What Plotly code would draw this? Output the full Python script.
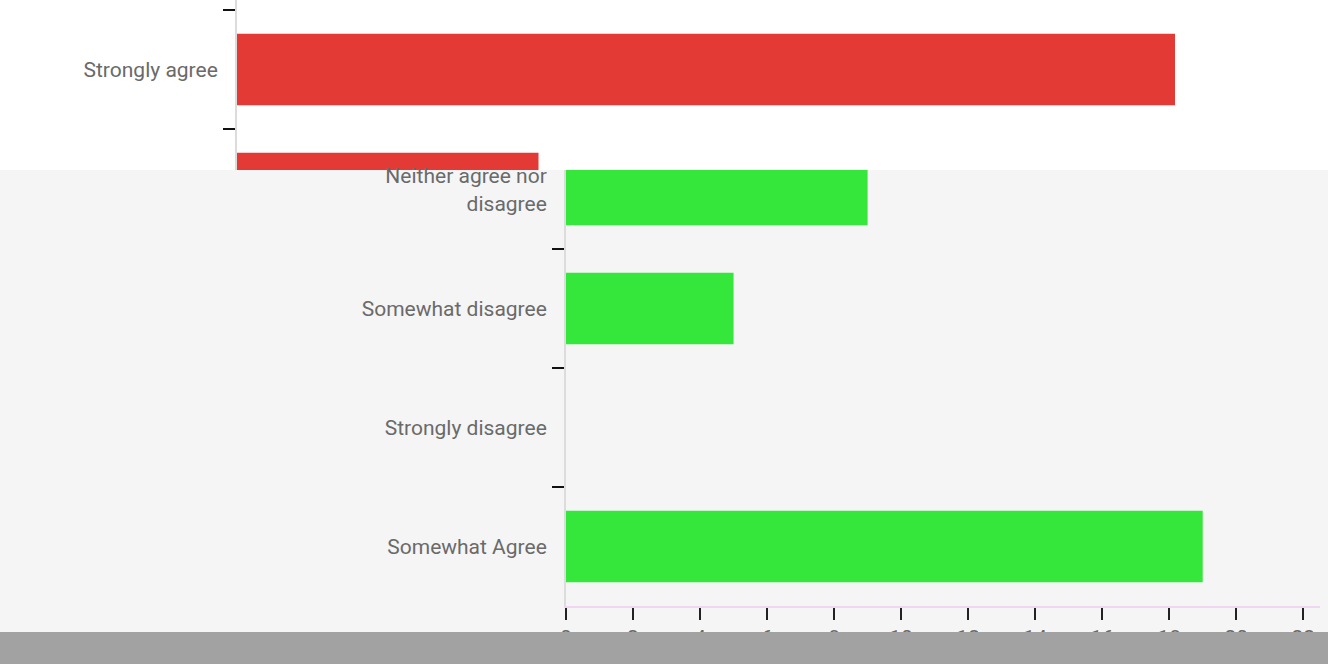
import plotly.graph_objects as go

# ---- data ----
categories = [
    "Strongly agree",
    "Neither agree nor<br>disagree",
    "Somewhat disagree",
    "Strongly disagree",
    "Somewhat Agree",
]
counts = [28, 9, 5, 0, 19]
x_tick_values = list(range(0, 24, 2))

RED = "#e43a35"
GREEN = "#35e63b"
LABEL_GREY = "#6a6a6a"
W, H = 1328, 664

fig = go.Figure()

# top panel (white background render, red bars)
fig.add_trace(go.Bar(
    x=counts, y=categories, orientation="h",
    marker=dict(color=RED, line=dict(width=0)),
    width=0.6, xaxis="x", yaxis="y", showlegend=False, hoverinfo="skip",
))
# lower panel (grey background render, green bars)
fig.add_trace(go.Bar(
    x=counts, y=categories, orientation="h",
    marker=dict(color=GREEN, line=dict(width=0)),
    width=0.6, xaxis="x2", yaxis="y2", showlegend=False, hoverinfo="skip",
))

font = dict(family="Roboto, 'Open Sans', sans-serif", size=21, color=LABEL_GREY)

yax_common = dict(
    type="category", categoryorder="array", categoryarray=categories,
    autorange=False, tickson="boundaries", ticks="outside", ticklen=12,
    tickwidth=2, tickcolor="#111111", showline=True, linecolor="#dcdcdc",
    linewidth=2, showgrid=False, zeroline=False, tickfont=font,
    ticklabelstandoff=13, automargin=False,
)

top_split = 1 - 170 / H
fig.update_layout(
    width=W, height=H,
    margin=dict(l=0, r=0, t=0, b=0, pad=0, autoexpand=False),
    paper_bgcolor="#f5f5f5",
    plot_bgcolor="rgba(0,0,0,0)",
    font=font,
    bargap=0.4,
    xaxis=dict(domain=[237 / W, 1], range=[0, (W - 237) / 33.5], anchor="y",
               visible=False, fixedrange=True, automargin=False),
    yaxis=dict(domain=[top_split, 1], range=[0.845, -0.584], anchor="x",
               **yax_common),
    xaxis2=dict(domain=[566 / W, 1320 / W], range=[0, 22.5], anchor="y2",
                tickvals=x_tick_values, ticks="outside", ticklen=12,
                tickwidth=2, tickcolor="#222222", showline=True,
                linecolor="#f0d6f0", linewidth=2, showgrid=False,
                zeroline=False, tickfont=font, automargin=False),
    yaxis2=dict(domain=[1 - 606 / H, top_split], range=[4.5, 0.836],
                anchor="x2", **yax_common),
    shapes=[
        dict(type="rect", xref="paper", yref="paper", x0=0, x1=1,
             y0=top_split, y1=1, fillcolor="#ffffff", line=dict(width=0),
             layer="below"),
        dict(type="rect", xref="paper", yref="paper", x0=0, x1=1,
             y0=0, y1=32 / H, fillcolor="#a2a2a2", line=dict(width=0),
             layer="above"),
    ],
)

fig.write_html(
    "out.html",
    config={"displayModeBar": False},
    post_script="document.body.style.margin='0';document.body.style.overflow='hidden';",
)
